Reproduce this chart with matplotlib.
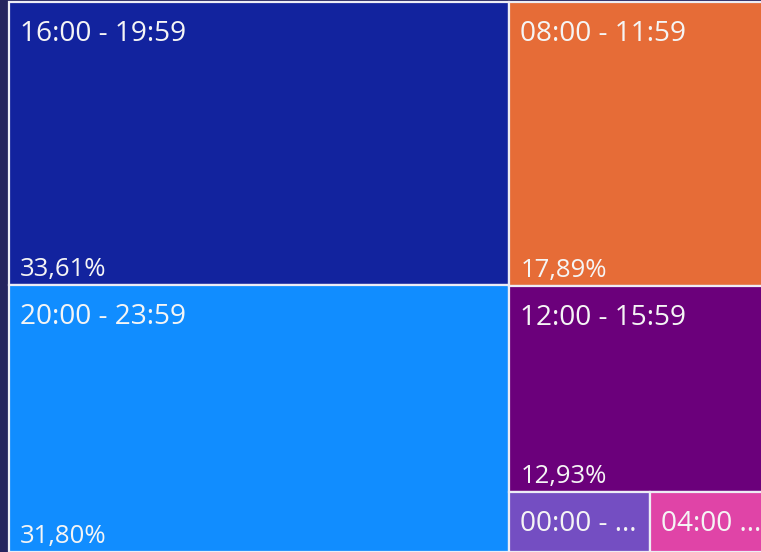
import matplotlib.pyplot as plt
from matplotlib.patches import Rectangle

# share of sessions per time slot (%)
slots = ['16:00 - 19:59', '20:00 - 23:59', '08:00 - 11:59', '12:00 - 15:59', '00:00 - 03:59', '04:00 - 07:59']
shown = ['16:00 - 19:59', '20:00 - 23:59', '08:00 - 11:59', '12:00 - 15:59', '00:00 - ...', '04:00 ...']
share = [33.61, 31.80, 17.89, 12.93, 2.00, 1.77]
colors = ['#12239E', '#118DFF', '#E66C37', '#6B007B', '#744EC2', '#E044A7']

BG = '#25245E'
X0, Y0, W, H = 9, 2, 765, 550


def layout(vals):
    # two columns: first two stacked, rest stacked with the last two side by side
    tot = sum(vals)
    rects = []
    lw = W * (vals[0] + vals[1]) / tot
    y = Y0
    for v in vals[:2]:
        h = H * v / (vals[0] + vals[1])
        rects.append((X0, y, lw, h))
        y += h
    rw = W - lw
    rtot = sum(vals[2:])
    y = Y0
    for v in vals[2:4]:
        h = H * v / rtot
        rects.append((X0 + lw, y, rw, h))
        y += h
    h = H - (y - Y0)
    x = X0 + lw
    for v in vals[4:]:
        w = rw * v / sum(vals[4:])
        rects.append((x, y, w, h))
        x += w
    return rects


fig = plt.figure(figsize=(7.61, 5.52), dpi=100)
fig.patch.set_facecolor(BG)
ax = fig.add_axes([0, 0, 1, 1])
ax.set_xlim(0, 761)
ax.set_ylim(552, 0)
ax.axis('off')

plt.rcParams['font.family'] = ['Open Sans', 'DejaVu Sans']

for i, (x, y, w, h) in enumerate(layout(share)):
    ax.add_patch(Rectangle((x, y), w, h, facecolor=colors[i], edgecolor='#EDEDF5', linewidth=1.6))
    ax.text(x + 11, y + 39, shown[i], color='#F5F5F5', fontsize=20.2, va='baseline', ha='left')
    if share[i] > 5:
        pct = f'{share[i]:.2f}%'.replace('.', ',')
        ax.text(x + 11, y + h - 9, pct, color='#F5F5F5', fontsize=18.5, va='baseline', ha='left')

fig.savefig('out.png', dpi=100, facecolor=BG)
